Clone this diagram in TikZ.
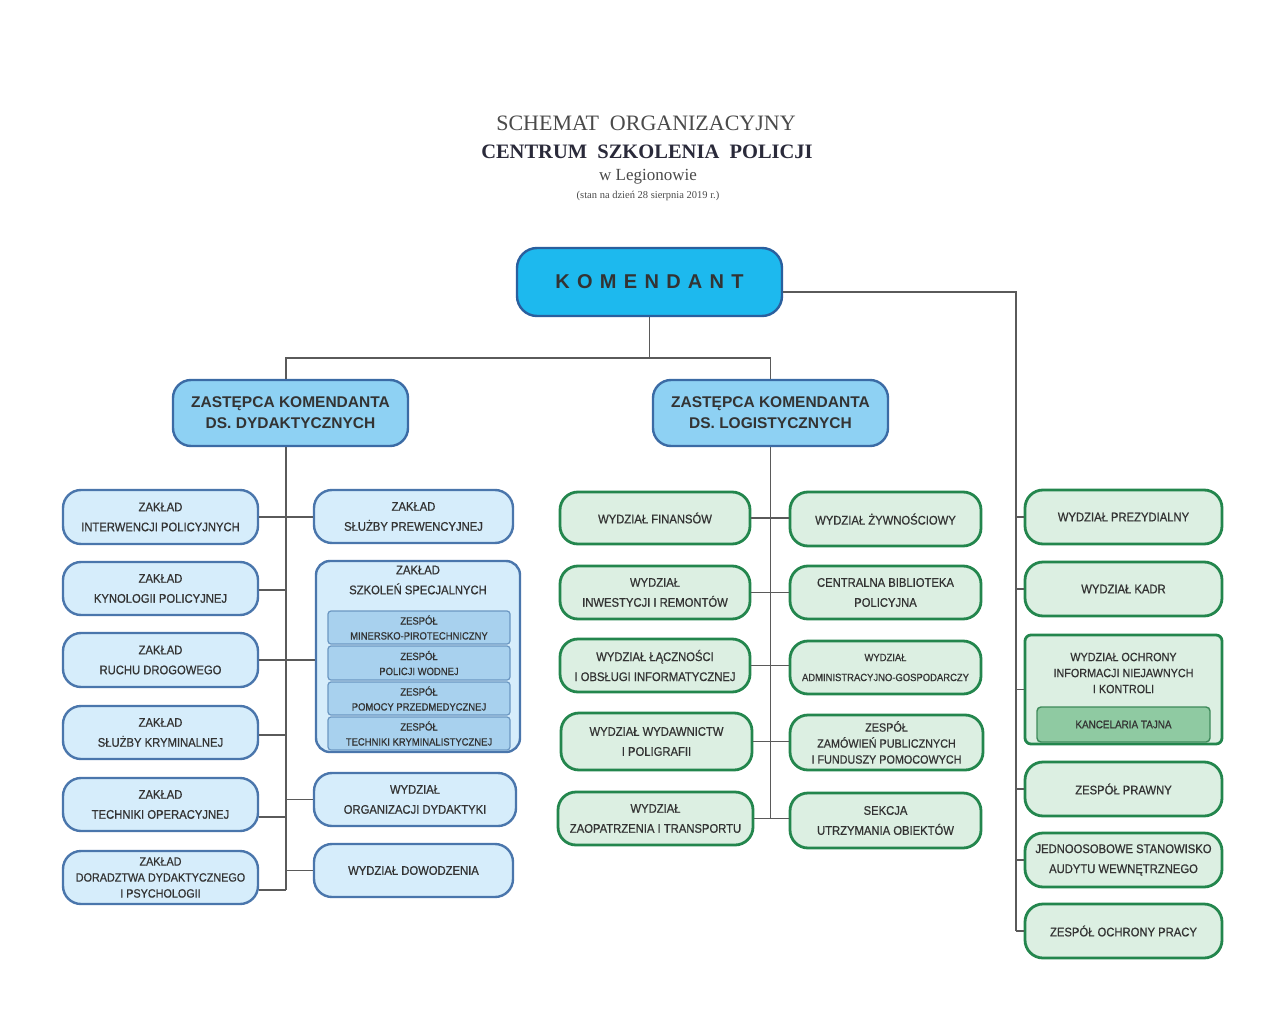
\documentclass[tikz,border=0pt]{standalone}
\usepackage{fontspec}
\setmainfont{Liberation Serif}
\newfontfamily\boxfont[FakeStretch=0.9,FakeBold=0.7]{Liberation Sans}
\newfontfamily\headfont{Liberation Sans}
\definecolor{lineC}{HTML}{5A5A5A}
\definecolor{komF}{HTML}{1DB9EE}
\definecolor{komB}{HTML}{2A5F9E}
\definecolor{zasF}{HTML}{8ED1F3}
\definecolor{zasB}{HTML}{3B6BA5}
\definecolor{blueF}{HTML}{D6EDFB}
\definecolor{blueB}{HTML}{4A76AC}
\definecolor{subF}{HTML}{A8D1EE}
\definecolor{subB}{HTML}{6B97C2}
\definecolor{grnF}{HTML}{DCEFE2}
\definecolor{grnB}{HTML}{23864D}
\definecolor{kanF}{HTML}{8FCAA2}
\definecolor{kanB}{HTML}{3E8A5A}
\definecolor{txtC}{HTML}{333333}
\definecolor{titC}{HTML}{4A4A4A}
\definecolor{titD}{HTML}{2A2A3A}
\begin{document}
\begin{tikzpicture}[x=1pt,y=-1pt,
  ln/.style={draw=lineC, line width=1.4pt},
  base/.style={align=center, inner sep=0pt, text=txtC},
  kombox/.style={base, draw=komB, fill=komF, line width=2.4pt, rounded corners=20pt,
    font=\headfont\bfseries\fontsize{20}{24}\selectfont, text=txtC},
  zasbox/.style={base, draw=zasB, fill=zasF, line width=2.4pt, rounded corners=18pt,
    font=\headfont\bfseries\fontsize{15.5}{21}\selectfont},
  bbox/.style={base, draw=blueB, fill=blueF, line width=2.4pt, rounded corners=18pt,
    font=\boxfont\fontsize{12.5}{20}\selectfont},
  sbox/.style={base, draw=subB, fill=subF, line width=1.2pt, rounded corners=3pt,
    font=\boxfont\fontsize{10.5}{15}\selectfont},
  gbox/.style={base, draw=grnB, fill=grnF, line width=2.8pt, rounded corners=18pt,
    font=\boxfont\fontsize{12.5}{20}\selectfont},
  threel/.style={font=\boxfont\fontsize{12}{16}\selectfont},
  kbox/.style={base, draw=kanB, fill=kanF, line width=1.4pt, rounded corners=4pt,
    font=\boxfont\fontsize{11}{14}\selectfont},
  txt/.style={base, font=\boxfont\fontsize{12.5}{20}\selectfont},
]
\useasboundingbox (0,0) rectangle (1276,1032);
\fill[white] (0,0) rectangle (1276,1032);

% title
\node[text=titC, font=\fontsize{22}{26}\selectfont] (t1) at (646,123) {SCHEMAT\ \ ORGANIZACYJNY};
\node[text=titD, font=\bfseries\fontsize{20.5}{24}\selectfont] (t2) at (647,152) {CENTRUM\ \ SZKOLENIA\ \ POLICJI};
\node[text=titC, font=\fontsize{17}{20}\selectfont] (t3) at (648,177) {w Legionowie};
\node[text=titC, font=\fontsize{10.5}{12}\selectfont] (t4) at (648,196) {(stan na dzień 28 sierpnia 2019 r.)};

% top
\node[kombox, minimum width=265pt, minimum height=68pt] (kom) at (649.5,282)
  {K\hspace{7.3pt}O\hspace{7.3pt}M\hspace{7.3pt}E\hspace{7.3pt}N\hspace{7.3pt}D\hspace{7.3pt}A\hspace{7.3pt}N\hspace{7.3pt}T};
\node[zasbox, minimum width=235pt, minimum height=66pt] (zd) at (290.5,413) {ZASTĘPCA KOMENDANTA\\DS. DYDAKTYCZNYCH};
\node[zasbox, minimum width=235pt, minimum height=66pt] (zl) at (770.5,413) {ZASTĘPCA KOMENDANTA\\DS. LOGISTYCZNYCH};

% left column
\node[bbox, minimum width=195pt, minimum height=54pt] (zk1) at (160.5,517) {ZAKŁAD\\INTERWENCJI POLICYJNYCH};
\node[bbox, minimum width=195pt, minimum height=53pt] (zk2) at (160.5,588.5) {ZAKŁAD\\KYNOLOGII POLICYJNEJ};
\node[bbox, minimum width=195pt, minimum height=54pt] (zk3) at (160.5,660) {ZAKŁAD\\RUCHU DROGOWEGO};
\node[bbox, minimum width=195pt, minimum height=53pt] (zk4) at (160.5,732.5) {ZAKŁAD\\SŁUŻBY KRYMINALNEJ};
\node[bbox, minimum width=195pt, minimum height=53pt] (zk5) at (160.5,804.5) {ZAKŁAD\\TECHNIKI OPERACYJNEJ};
\node[bbox, threel, minimum width=195pt, minimum height=53pt] (zk6) at (160.5,877.5) {ZAKŁAD\\DORADZTWA DYDAKTYCZNEGO\\I PSYCHOLOGII};

% second column
\node[bbox, minimum width=199pt, minimum height=53pt] (zs1) at (413.5,516.5) {ZAKŁAD\\SŁUŻBY PREWENCYJNEJ};
\node[bbox, rounded corners=14pt, minimum width=204pt, minimum height=191pt] (zsz) at (418,656.5) {};
\node[txt] (zszt) at (418,580) {ZAKŁAD\\SZKOLEŃ SPECJALNYCH};
\node[sbox, minimum width=182pt, minimum height=33pt] (s1) at (419,627.5) {ZESPÓŁ\\MINERSKO-PIROTECHNICZNY};
\node[sbox, minimum width=182pt, minimum height=34pt] (s2) at (419,663) {ZESPÓŁ\\POLICJI WODNEJ};
\node[sbox, minimum width=182pt, minimum height=33pt] (s3) at (419,698.5) {ZESPÓŁ\\POMOCY PRZEDMEDYCZNEJ};
\node[sbox, minimum width=182pt, minimum height=33pt] (s4) at (419,733.5) {ZESPÓŁ\\TECHNIKI KRYMINALISTYCZNEJ};
\node[bbox, minimum width=202pt, minimum height=53pt] (wod) at (415,799.5) {WYDZIAŁ\\ORGANIZACJI DYDAKTYKI};
\node[bbox, minimum width=199pt, minimum height=53pt] (wdw) at (413.5,870.5) {WYDZIAŁ DOWODZENIA};

% logistics
\node[gbox, minimum width=190pt, minimum height=52pt] (g1) at (655,518) {WYDZIAŁ FINANSÓW};
\node[gbox, minimum width=190pt, minimum height=53pt] (g2) at (655,592.5) {WYDZIAŁ\\INWESTYCJI I REMONTÓW};
\node[gbox, minimum width=190pt, minimum height=53pt] (g3) at (655,665.5) {WYDZIAŁ ŁĄCZNOŚCI\\I OBSŁUGI INFORMATYCZNEJ};
\node[gbox, minimum width=191pt, minimum height=57pt] (g4) at (656.5,741.5) {WYDZIAŁ WYDAWNICTW\\I POLIGRAFII};
\node[gbox, minimum width=195pt, minimum height=53pt] (g5) at (655.5,818.5) {WYDZIAŁ\\ZAOPATRZENIA I TRANSPORTU};
\node[gbox, minimum width=191pt, minimum height=54pt] (h1) at (885.5,519) {WYDZIAŁ ŻYWNOŚCIOWY};
\node[gbox, minimum width=191pt, minimum height=53pt] (h2) at (885.5,592.5) {CENTRALNA BIBLIOTEKA\\POLICYJNA};
\node[gbox, minimum width=191pt, minimum height=53pt, font=\boxfont\fontsize{10.5}{20}\selectfont] (h3) at (885.5,667.5) {WYDZIAŁ\\ADMINISTRACYJNO-GOSPODARCZY};
\node[gbox, threel, minimum width=193pt, minimum height=55pt] (h4) at (886.5,742.5) {ZESPÓŁ\\ZAMÓWIEŃ PUBLICZNYCH\\I FUNDUSZY POMOCOWYCH};
\node[gbox, minimum width=191pt, minimum height=55pt] (h5) at (885.5,820.5) {SEKCJA\\UTRZYMANIA OBIEKTÓW};

% right column
\node[gbox, minimum width=197pt, minimum height=54pt] (r1) at (1123.5,517) {WYDZIAŁ PREZYDIALNY};
\node[gbox, minimum width=197pt, minimum height=54pt] (r2) at (1123.5,589) {WYDZIAŁ KADR};
\node[gbox, rounded corners=6pt, minimum width=197pt, minimum height=109pt] (r3) at (1123.5,689.5) {};
\node[txt, font=\boxfont\fontsize{12}{16}\selectfont] (r3t) at (1123.5,673) {WYDZIAŁ OCHRONY\\INFORMACJI NIEJAWNYCH\\I KONTROLI};
\node[kbox, minimum width=173pt, minimum height=35pt] (kt) at (1123.5,724.5) {KANCELARIA TAJNA};
\node[gbox, minimum width=197pt, minimum height=54pt] (r4) at (1123.5,789) {ZESPÓŁ PRAWNY};
\node[gbox, minimum width=197pt, minimum height=54pt] (r5) at (1123.5,860) {JEDNOOSOBOWE STANOWISKO\\AUDYTU WEWNĘTRZNEGO};
\node[gbox, minimum width=197pt, minimum height=54pt] (r6) at (1123.5,931) {ZESPÓŁ OCHRONY PRACY};

% spine coordinates
\coordinate (tb) at (649.5,358);
\coordinate (ls) at (286,890);
\coordinate (rs) at (1016,931);

% connectors
\draw[ln] (kom.south) -- (tb);
\draw[ln] (ls |- zd.north) |- (tb) -| (zl.north);
\draw[ln] (kom.east) ++(0,10) -| (rs);
\draw[ln] (ls |- zd.south) -- (ls);
\draw[ln] (zk1.east) -- (zk1.east -| zs1.west);
\draw[ln] (zk2.east) ++(0,1.5) -- ++(28,0);
\draw[ln] (zk3.east) -- (zk3.east -| zsz.west);
\draw[ln] (zk4.east) ++(0,2.5) -- ++(28,0);
\draw[ln] (zk5.east) ++(0,12.5) -- ++(28,0);
\draw[ln] (zk6.east) ++(0,12.5) -- (ls);
\draw[ln] (wod.west -| ls) -- (wod.west);
\draw[ln] (wdw.west -| ls) -- (wdw.west);

\draw[ln] (zl.south) -- (zl.south |- g5.east);
\draw[ln] (g1.east) -- (g1.east -| h1.west);
\draw[ln] (g2.east) -- (g2.east -| h2.west);
\draw[ln] (g3.east) -- (g3.east -| h3.west);
\draw[ln] (g4.east) -- (g4.east -| h4.west);
\draw[ln] (g5.east) -- (g5.east -| h5.west);

\draw[ln] (r1.west -| rs) -- (r1.west);
\draw[ln] (r2.west -| rs) -- (r2.west);
\draw[ln] (r3.west -| rs) -- (r3.west);
\draw[ln] (r4.west -| rs) -- (r4.west);
\draw[ln] (r5.west -| rs) -- (r5.west);
\draw[ln] (r6.west -| rs) -- (r6.west);
\end{tikzpicture}
\end{document}
